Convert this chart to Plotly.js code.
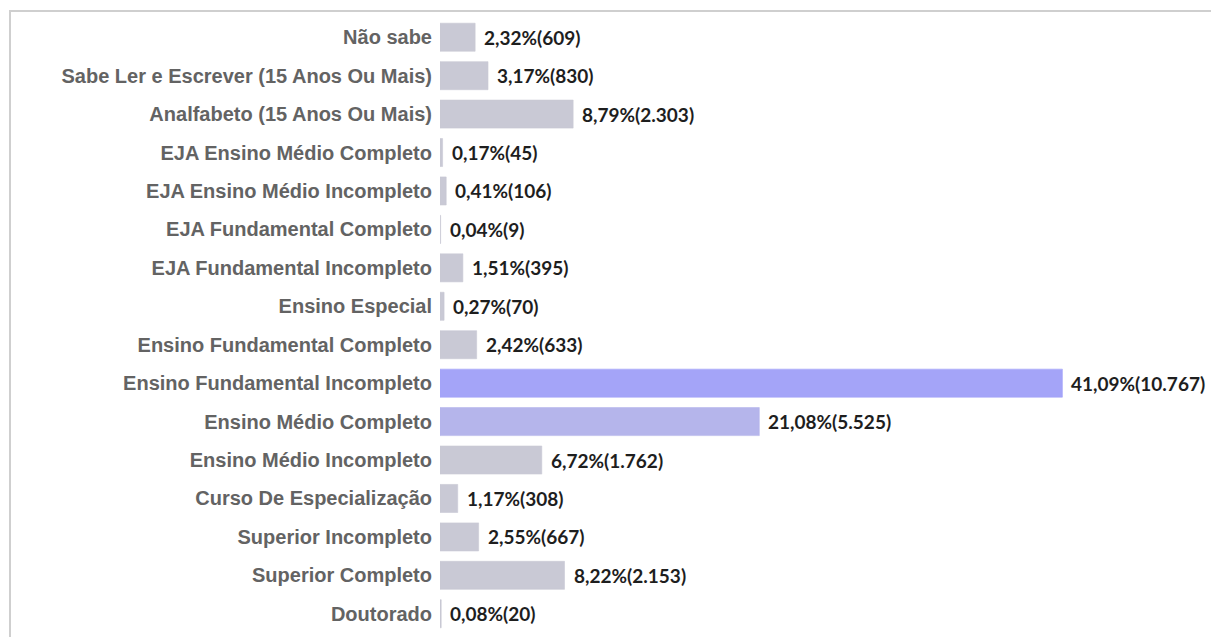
<!DOCTYPE html>
<html>
<head>
<meta charset="utf-8">
<script src="https://cdn.plot.ly/plotly-3.0.1.min.js"></script>
<style>
html,body{margin:0;padding:0;background:#fff;}
#wrap{position:relative;width:1211px;height:637px;}
#chart{width:1211px;height:637px;}
#frame{position:absolute;left:9px;top:10px;width:1210px;height:640px;border-top:2px solid #cfcfcf;border-left:2px solid #cfcfcf;pointer-events:none;}
</style>
</head>
<body>
<div id="wrap"><div id="chart"></div><div id="frame"></div></div>
<script>
const categories = [
  "Não sabe",
  "Sabe Ler e Escrever (15 Anos Ou Mais)",
  "Analfabeto (15 Anos Ou Mais)",
  "EJA Ensino Médio Completo",
  "EJA Ensino Médio Incompleto",
  "EJA Fundamental Completo",
  "EJA Fundamental Incompleto",
  "Ensino Especial",
  "Ensino Fundamental Completo",
  "Ensino Fundamental Incompleto",
  "Ensino Médio Completo",
  "Ensino Médio Incompleto",
  "Curso De Especialização",
  "Superior Incompleto",
  "Superior Completo",
  "Doutorado"
];
const percents = [2.32, 3.17, 8.79, 0.17, 0.41, 0.04, 1.51, 0.27, 2.42, 41.09, 21.08, 6.72, 1.17, 2.55, 8.22, 0.08];
const counts = [609, 830, 2303, 45, 106, 9, 395, 70, 633, 10767, 5525, 1762, 308, 667, 2153, 20];

const grayColor = "#c9c9d5";
const colors = percents.map((p, i) => i === 9 ? "#a4a4f8" : (i === 10 ? "#b5b5eb" : grayColor));

function fmtCount(n){ return String(n).replace(/\B(?=(\d{3})+(?!\d))/g, "."); }
const valueLabels = percents.map((p, i) => p.toFixed(2).replace(".", ",") + "%(" + fmtCount(counts[i]) + ")");

const trace = {
  type: "bar",
  orientation: "h",
  y: categories,
  x: percents,
  marker: {color: colors, line: {color: colors, width: 0.6}},
  hoverinfo: "none"
};

const annotations = categories.map((c, i) => ({
  x: percents[i], y: c, xref: "x", yref: "y",
  text: valueLabels[i], showarrow: false,
  xanchor: "left", yanchor: "middle", xshift: 7,
  font: {family: "Lato, 'Open Sans', sans-serif", size: 19, color: "#1e1e1e", weight: "bold"}
}));

const layout = {
  width: 1211, height: 637,
  margin: {l: 440, r: 0, t: 18, b: 4},
  paper_bgcolor: "#ffffff", plot_bgcolor: "#ffffff",
  showlegend: false,
  bargap: 0.27,
  xaxis: {range: [0, 50.9], visible: false, fixedrange: true},
  yaxis: {
    autorange: "reversed", showgrid: false, zeroline: false, showline: false,
    ticks: "", ticklabelstandoff: 7,
    tickfont: {family: "'Liberation Sans', Arial, sans-serif", size: 20, color: "#636363", weight: "bold"},
    fixedrange: true
  },
  annotations: annotations
};

Plotly.newPlot("chart", [trace], layout, {displayModeBar: false, staticPlot: true});
</script>
</body>
</html>
